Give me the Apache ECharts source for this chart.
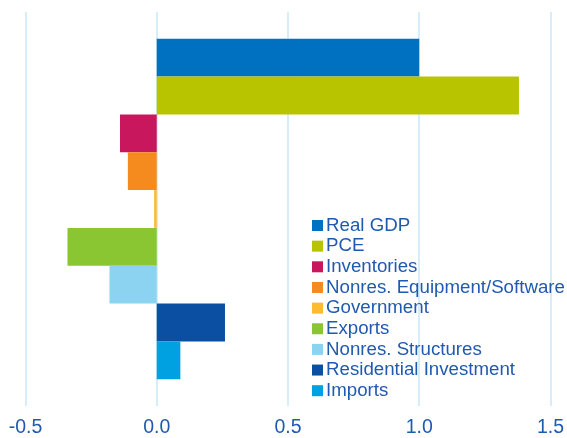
<!DOCTYPE html>
<html>
<head>
<meta charset="utf-8">
<script src="https://cdn.jsdelivr.net/npm/echarts@6/dist/echarts.min.js"></script>
<style>html,body{margin:0;padding:0;background:#fff}#c{width:567px;height:438px}</style>
</head>
<body>
<div id="c"></div>
<script>
const categories = [''];
const seriesNames = ['Real GDP','PCE','Inventories','Nonres. Equipment/Software','Government','Exports','Nonres. Structures','Residential Investment','Imports'];
const seriesValues = [1.0, 1.38, -0.14, -0.11, -0.01, -0.34, -0.18, 0.26, 0.09];
const seriesColors = ['#0070C0','#B8C400','#C8175D','#F58A1F','#FDBB30','#8AC631','#8CD3F2','#0B4FA3','#00A1E0'];
const xTicks = [-0.5, 0.0, 0.5, 1.0, 1.5];

const chart = echarts.init(document.getElementById('c'));
chart.setOption({
  animation: false,
  grid: {left: 25.5, right: 16.5, top: 12, bottom: 30, containLabel: false},
  legend: {
    orient: 'vertical', left: 307, top: 211,
    itemWidth: 11, itemHeight: 11, itemGap: 1.65,
    icon: 'rect',
    textStyle: {color: '#1F5AB0', fontSize: 18.7, fontFamily: 'Liberation Sans, Arial', lineHeight: 18, padding: [0,0,0,-2]},
    data: seriesNames
  },
  xAxis: {
    type: 'value', min: xTicks[0], max: xTicks[xTicks.length-1], interval: 0.5,
    axisLine: {show: false}, axisTick: {show: false},
    splitLine: {show: true, lineStyle: {color: '#D6EEF9', width: 2}},
    axisLabel: {color: '#1F5AB0', fontSize: 19.5, fontFamily: 'Liberation Sans, Arial', margin: 12,
      formatter: v => v.toFixed(1)}
  },
  yAxis: {
    type: 'category', data: categories,
    axisLine: {show: false}, axisTick: {show: false}, axisLabel: {show: false}
  },
  series: seriesNames.map((n, i) => ({
    name: n, type: 'bar', data: [seriesValues[i]],
    barGap: '0%', barCategoryGap: '13.6%',
    itemStyle: {color: seriesColors[i]}
  }))
});
</script>
</body>
</html>
